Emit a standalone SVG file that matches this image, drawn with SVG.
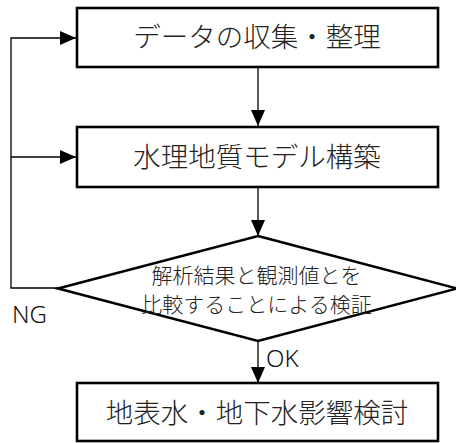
<svg xmlns="http://www.w3.org/2000/svg" width="456" height="443" viewBox="0 0 456 443">
<defs>
<style>
.box{fill:#fff;stroke:#000;stroke-width:2.6}
.t{font-family:"Noto Sans CJK JP","Noto Sans",sans-serif;font-weight:300;fill:#222;text-anchor:middle}
.b{font-size:27.5px}
.d{font-size:21px}
.l{font-family:"Noto Sans","Noto Sans CJK JP",sans-serif;font-weight:300;font-size:24px;fill:#111}
.c{fill:none;stroke:#000;stroke-width:1.3}
</style>
<marker id="ah" markerWidth="16" markerHeight="14" refX="16" refY="7" orient="auto" markerUnits="userSpaceOnUse">
<path d="M0,0 L16,7 L0,14 Z" fill="#000"/>
</marker>
</defs>
<rect width="456" height="443" fill="#fff"/>
<g id="connectors">
<line class="c" x1="258" y1="67" x2="258" y2="126" marker-end="url(#ah)"/>
<line class="c" x1="258" y1="187" x2="258" y2="236" marker-end="url(#ah)"/>
<line class="c" x1="258" y1="341" x2="258" y2="383" marker-end="url(#ah)"/>
<polyline class="c" points="58,288 11,288 11,38 76,38" marker-end="url(#ah)"/>
<line class="c" x1="11" y1="157" x2="76" y2="157" marker-end="url(#ah)"/>
<text class="l" x="12" y="323">NG</text>
<text class="l" x="266" y="367">OK</text>
</g>
<g id="n1">
<rect class="box" x="77" y="8" width="361" height="59"/>
<text class="t b" x="257" y="47">データの収集・整理</text>
</g>
<g id="n2">
<rect class="box" x="77" y="127" width="361" height="60"/>
<text class="t b" x="257" y="167">水理地質モデル構築</text>
</g>
<g id="n3">
<polygon class="box" points="258,236 457,288.5 258,341 58,288.5"/>
<text class="t d" x="256.5" y="283">解析結果と観測値とを</text>
<text class="t d" x="256.5" y="312">比較することによる検証</text>
</g>
<g id="n4">
<rect class="box" x="77" y="383" width="361" height="58"/>
<text class="t b" x="257" y="423">地表水・地下水影響検討</text>
</g>
</svg>
